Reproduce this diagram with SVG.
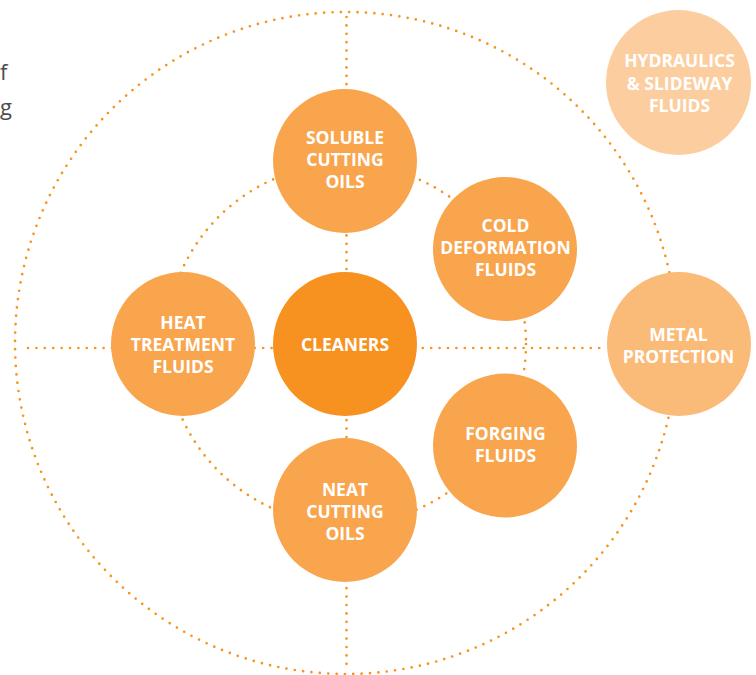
<svg xmlns="http://www.w3.org/2000/svg" width="756" height="675" viewBox="0 0 756 675">
<style>
.dot{fill:none;stroke:#F7941D;stroke-width:2.7;stroke-linecap:round;stroke-dasharray:0 8.4}
.n{fill:#F9A54E}
.lbl{font-family:"Open Sans","Liberation Sans",sans-serif;font-weight:bold;font-size:17.5px;fill:#FFFFFF;text-anchor:middle}
.side{font-family:"Open Sans","Liberation Sans",sans-serif;font-size:22px;fill:#4D4D4D}
</style>
<rect width="756" height="675" fill="#FFFFFF"/>
<text class="side" x="0" y="80">f</text>
<text class="side" x="0" y="115">g</text>
<g id="connectors">
<circle class="dot" cx="346" cy="343" r="331"/>
<circle class="dot" cx="346" cy="344" r="180"/>
<line class="dot" x1="28" y1="348" x2="606" y2="348"/>
<line class="dot" x1="346.5" y1="17" x2="346.5" y2="672"/>
</g>
<g id="soluble">
<circle class="n" cx="345" cy="161" r="72"/>
<text class="lbl"><tspan x="345" y="144">SOLUBLE</tspan><tspan x="345" y="166">CUTTING</tspan><tspan x="345" y="188">OILS</tspan></text>
</g>
<g id="heat">
<circle class="n" cx="183" cy="344" r="72"/>
<text class="lbl"><tspan x="183" y="329">HEAT</tspan><tspan x="183" y="351">TREATMENT</tspan><tspan x="183" y="373">FLUIDS</tspan></text>
</g>
<g id="cleaners">
<circle cx="345" cy="344" r="72" fill="#F7911F"/>
<text class="lbl" x="345" y="351">CLEANERS</text>
</g>
<g id="neat">
<circle class="n" cx="345" cy="510" r="72"/>
<text class="lbl"><tspan x="345" y="496">NEAT</tspan><tspan x="345" y="518">CUTTING</tspan><tspan x="345" y="540">OILS</tspan></text>
</g>
<g id="cold">
<circle class="n" cx="505" cy="249" r="72"/>
<text class="lbl"><tspan x="505.5" y="232">COLD</tspan><tspan x="505.5" y="254">DEFORMATION</tspan><tspan x="505.5" y="276">FLUIDS</tspan></text>
</g>
<g id="forging">
<circle class="n" cx="505" cy="445.5" r="72"/>
<text class="lbl"><tspan x="505.5" y="440">FORGING</tspan><tspan x="505.5" y="462">FLUIDS</tspan></text>
</g>
<g id="metal">
<circle cx="679" cy="344" r="72" fill="#FBBB78"/>
<text class="lbl"><tspan x="678.5" y="340.5">METAL</tspan><tspan x="678.5" y="362.5">PROTECTION</tspan></text>
</g>
<g id="hydraulics">
<circle cx="678.5" cy="82.5" r="72.5" fill="#FCCE9F"/>
<text class="lbl"><tspan x="679.5" y="67">HYDRAULICS</tspan><tspan x="679.5" y="89.5">&amp; SLIDEWAY</tspan><tspan x="679.5" y="112">FLUIDS</tspan></text>
</g>
</svg>
